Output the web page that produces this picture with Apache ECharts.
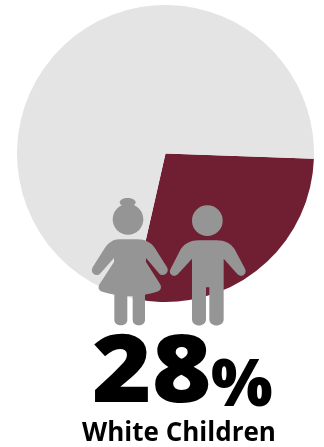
<!DOCTYPE html>
<html>
<head>
<meta charset="utf-8">
<style>html,body{margin:0;padding:0;background:#fff}#chart{width:324px;height:447px}</style>
<script src="https://cdn.jsdelivr.net/npm/echarts@6/dist/echarts.min.js"></script>
</head>
<body>
<div id="chart"></div>
<script>
const groupLabel = 'White Children';
const shareValue = 28;
const restValue = 72;
const sliceColors = ['#701f33', '#e4e4e4'];
const iconColor = '#959595';

// Child icons, drawn in a 3x grid and scaled down when placed.
const girlPath = 'M118 178 L172 178 C196 178 214 188 226 206 L261 262 C270 278 250 293 238 281 L198 234 L198 246 L240 312 C247 324 241 333 228 336 C218 339 206 342 195 344 L195 420 C195 441 158 441 158 420 L158 349 L142 349 L142 420 C142 441 103 441 103 420 L103 344 C92 342 80 339 70 336 C57 333 52 324 59 312 L102 246 L102 234 L60 281 C48 293 29 278 38 262 L73 206 C85 188 100 178 118 178 Z';
const boyPath = 'M356 181 L410 181 C434 181 452 190 464 208 L495 266 C503 282 484 295 472 282 L431 236 L431 418 C431 443 388 443 388 418 L388 322 L378 322 L378 418 C378 443 336 443 336 418 L336 236 L294 282 C282 295 263 282 272 266 L302 208 C314 190 334 181 356 181 Z';

echarts.graphic.registerShape('girlBody', echarts.graphic.extendPath(girlPath, {}));
echarts.graphic.registerShape('boyBody', echarts.graphic.extendPath(boyPath, {}));

const chart = echarts.init(document.getElementById('chart'), null, { renderer: 'canvas' });
chart.setOption({
  animation: false,
  series: [{
    type: 'pie',
    z: 1,
    center: [165.5, 153.5],
    radius: [0, 148.5],
    startAngle: -2,
    silent: true,
    label: { show: false },
    labelLine: { show: false },
    data: [
      { value: shareValue, name: groupLabel, itemStyle: { color: sliceColors[0] } },
      { value: restValue, name: 'Other', itemStyle: { color: sliceColors[1] } }
    ]
  }],
  graphic: [
    {
      type: 'group',
      z: 10,
      x: 80, y: 180, scaleX: 1 / 3, scaleY: 1 / 3,
      silent: true,
      children: [
        { type: 'ellipse', z: 10, shape: { cx: 143, cy: 67, rx: 24, ry: 13 }, style: { fill: iconColor } },
        { type: 'circle', z: 10, shape: { cx: 144, cy: 118, r: 46 }, style: { fill: iconColor } },
        { type: 'girlBody', z: 10, style: { fill: iconColor } },
        { type: 'circle', z: 10, shape: { cx: 382, cy: 122, r: 46 }, style: { fill: iconColor } },
        { type: 'boyBody', z: 10, style: { fill: iconColor } }
      ]
    },
    {
      type: 'text', z: 10, x: 92, y: 375.5, scaleX: 1.085,
      style: { text: String(shareValue), fill: '#000', font: '800 94px "Open Sans"', textAlign: 'left', textVerticalAlign: 'middle' }
    },
    {
      type: 'text', z: 10, x: 211, y: 387,
      style: { text: '%', fill: '#000', font: '800 65px "Open Sans"', textAlign: 'left', textVerticalAlign: 'middle' }
    },
    {
      type: 'text', z: 10, x: 179, y: 433.5,
      style: { text: groupLabel, fill: '#000', font: '700 26px "Open Sans"', textAlign: 'center', textVerticalAlign: 'middle' }
    }
  ]
});
</script>
</body>
</html>
